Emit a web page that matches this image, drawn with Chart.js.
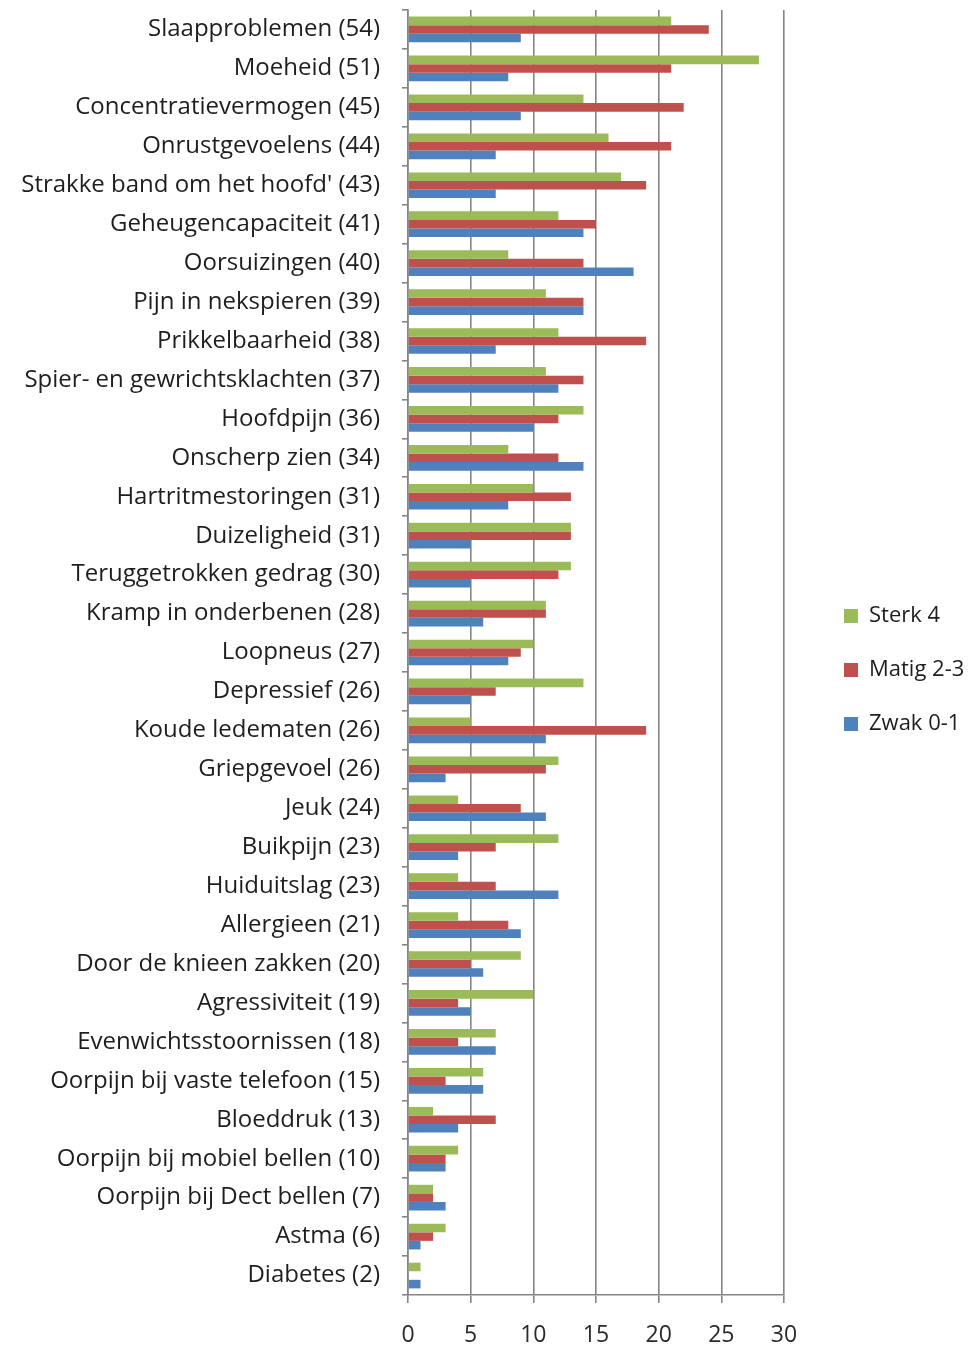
<!DOCTYPE html>
<html lang="nl">
<head>
<meta charset="UTF-8">
<title>Klachten</title>
<script src="https://cdn.jsdelivr.net/npm/chart.js@4"></script>
<style>
  html, body { margin: 0; padding: 0; background: #fff; }
  #wrap { position: relative; width: 976px; height: 1346px; }
</style>
</head>
<body>
<div id="wrap"><canvas id="chart" width="976" height="1346"></canvas></div>
<script>
// ---------------------------------------------------------------------------
// Data
// ---------------------------------------------------------------------------
const categories = [
  'Slaapproblemen (54)', 'Moeheid (51)', 'Concentratievermogen (45)', 'Onrustgevoelens (44)',
  "Strakke band om het hoofd' (43)", 'Geheugencapaciteit (41)', 'Oorsuizingen (40)',
  'Pijn in nekspieren (39)', 'Prikkelbaarheid (38)', 'Spier- en gewrichtsklachten (37)',
  'Hoofdpijn (36)', 'Onscherp zien (34)', 'Hartritmestoringen (31)', 'Duizeligheid (31)',
  'Teruggetrokken gedrag (30)', 'Kramp in onderbenen (28)', 'Loopneus (27)', 'Depressief (26)',
  'Koude ledematen (26)', 'Griepgevoel (26)', 'Jeuk (24)', 'Buikpijn (23)', 'Huiduitslag (23)',
  'Allergieen (21)', 'Door de knieen zakken (20)', 'Agressiviteit (19)', 'Evenwichtsstoornissen (18)',
  'Oorpijn bij vaste telefoon (15)', 'Bloeddruk (13)', 'Oorpijn bij mobiel bellen (10)',
  'Oorpijn bij Dect bellen (7)', 'Astma (6)', 'Diabetes (2)'
];
const seriesNames = ['Sterk 4', 'Matig 2-3', 'Zwak 0-1'];
const sterk = [21, 28, 14, 16, 17, 12, 8, 11, 12, 11, 14, 8, 10, 13, 13, 11, 10, 14, 5, 12, 4, 12, 4, 4, 9, 10, 7, 6, 2, 4, 2, 3, 1];
const matig = [24, 21, 22, 21, 19, 15, 14, 14, 19, 14, 12, 12, 13, 13, 12, 11, 9, 7, 19, 11, 9, 7, 7, 8, 5, 4, 4, 3, 7, 3, 2, 2, 0];
const zwak  = [9, 8, 9, 7, 7, 14, 18, 14, 7, 12, 10, 14, 8, 5, 5, 6, 8, 5, 11, 3, 11, 4, 12, 9, 6, 5, 7, 6, 4, 3, 3, 1, 1];
const xTicks = [0, 5, 10, 15, 20, 25, 30];

// Excel 2007 palette
const colors = ['#9BBB59', '#C0504D', '#4F81BD'];
const gridGray = '#858585';
const FONT = '"Open Sans", "Noto Sans", sans-serif';

// pin the legend box width and nudge it so the chart area ends at x≈784
const legendFit = {
  id: 'legendFit',
  beforeInit(chart) {
    const fit = chart.legend.fit;
    chart.legend.fit = function () {
      fit.bind(chart.legend)();
      this.width = 192;
    };
  },
  afterLayout(chart) {
    chart.legend.left += 28;
    chart.legend.top -= 8;
    chart.legend.bottom -= 8;
  }
};

new Chart(document.getElementById('chart'), {
  type: 'bar',
  data: {
    labels: categories,
    datasets: [sterk, matig, zwak].map((d, i) => ({
      label: seriesNames[i],
      data: d,
      backgroundColor: colors[i],
      borderWidth: 0,
      categoryPercentage: 0.66,
      barPercentage: 1.0
    }))
  },
  options: {
    indexAxis: 'y',
    responsive: false,
    animation: false,
    layout: { padding: { top: 10, left: 0, right: 0, bottom: 0 } },
    plugins: {
      tooltip: { enabled: false },
      legend: {
        position: 'right',
        labels: {
          color: '#1e1e1e',
          boxWidth: 14,
          boxHeight: 14,
          padding: 32,
          font: { family: FONT, size: 22 }
        }
      }
    },
    scales: {
      x: {
        min: 0,
        max: 30,
        afterBuildTicks: s => { s.ticks = xTicks.map(v => ({ value: v })); },
        afterFit: s => { s.height = 51; },
        grid: { color: gridGray, lineWidth: 1.6, tickLength: 8, drawTicks: true },
        border: { color: gridGray, width: 1.6 },
        ticks: { color: '#2a2a2a', padding: 19, font: { family: FONT, size: 23 } }
      },
      y: {
        afterFit: s => { s.width = 408; s.paddingTop = 0; s.paddingBottom = 0; },
        grid: { display: true, drawOnChartArea: false, drawTicks: true, tickLength: 6, color: gridGray, lineWidth: 1.6 },
        border: { color: gridGray, width: 1.6 },
        ticks: { color: '#1e1e1e', padding: 22, autoSkip: false, font: { family: FONT, size: 24 } }
      }
    }
  },
  plugins: [legendFit]
});
</script>
</body>
</html>
